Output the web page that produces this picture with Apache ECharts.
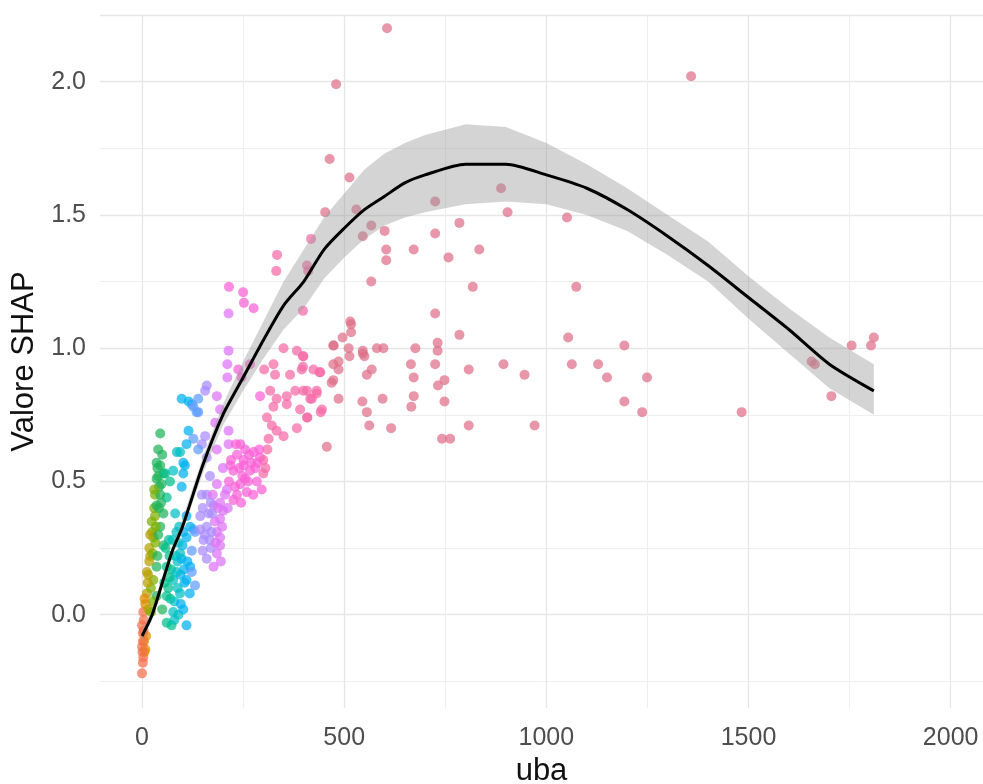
<!DOCTYPE html>
<html>
<head>
<meta charset="utf-8">
<script src="https://cdn.jsdelivr.net/npm/echarts@6/dist/echarts.min.js"></script>
<style>
    html, body { margin: 0; padding: 0; background: #fff; }
    #chart { width: 983px; height: 784px; }
</style>
</head>
<body>
<div id="chart"></div>
<script>
    // punti SHAP (uba -> valore SHAP)
    const uba = [
        0, 3, 8, 0, 5, 2, 0, 4, 3, 8,
        16, 12, 28, 12, 36, 20, 53, 28, 45, 32,
        36, 22, 18, 25, 14, 6, 10, 6, 2,
        2, 4, 1,
        20, 24, 30, 18, 26, 33, 40, 15, 38, 42, 28, 22,
        32, 38, 42, 50, 34, 47,
        45, 40, 36, 53, 36, 61, 45, 36, 53, 40,
        57, 45, 30, 48,
        61, 77, 61, 77, 61, 73, 50, 55, 68, 70,
        65, 80, 88, 95, 72, 84, 66, 100, 105, 90, 80, 58, 92,
        75, 85, 96, 112, 118, 104, 68, 88,
        102, 94, 110, 119, 98, 110, 85, 90, 127, 110,
        94, 123, 131, 123, 82, 110, 119, 102, 131, 98,
        123, 115, 127, 110, 86, 94, 102, 106, 77, 102,
        98, 69, 115,
        152, 160, 177, 185, 144, 193, 193, 144, 177, 160,
        185, 168, 193, 156, 139, 127, 139, 185, 193, 181,
        214, 214, 156, 148, 139, 160, 135, 170, 150,
        165, 172, 180, 150, 188, 198, 160, 175,
        155, 182, 170, 148, 195,
        243, 276, 251, 292, 267, 226, 300, 243, 284, 210,
        185, 226, 193, 259, 296, 168, 201, 173, 218, 251,
        185, 160, 235, 270, 310, 255,
        205, 215, 230, 240, 262, 280, 290, 235, 255, 200, 275, 300,
        220, 248, 265, 285, 305, 245, 212, 232,
        214, 276, 252, 214, 211, 211, 238, 246, 267, 302,
        325, 329, 350, 383, 399, 366, 395, 424, 441, 473,
        473, 473, 292, 317, 333, 358, 379, 408, 432, 325,
        358, 391, 416, 445, 408, 383, 350, 457, 309, 321,
        333, 313, 215, 250, 334, 332, 418, 411, 398,
        606, 480, 1358, 464, 513, 453, 530, 567, 546, 600,
        604, 604, 408, 672, 725, 725, 785, 758, 834, 888,
        904, 1051, 567, 818, 1074, 725, 515, 785, 1054, 1193,
        517, 517, 496, 474, 511, 546, 513, 550, 581, 597,
        676, 731, 731, 665, 725, 808, 894, 946, 1063, 1128,
        1150, 1249, 1193, 1237, 971, 808, 742, 762, 672, 672,
        666, 748, 732, 748, 595, 545, 556, 562, 616, 486,
        486, 439, 469, 486, 442, 409, 420, 399, 432, 398,
        398, 546, 568, 556, 1755, 1810, 1803, 1656, 1664, 1705,
        1483
    ];
    const shap = [
        -0.22, -0.16, -0.13, -0.12, -0.10, -0.07, -0.04, -0.02, 0.01, 0.04,
        0.02, 0.08, 0.13, 0.16, 0.18, 0.22, 0.26, 0.29, 0.33, 0.37,
        0.07, 0.10, 0.25, 0.31, 0.12, 0.06, -0.08, -0.14, -0.18,
        -0.10, -0.06, -0.14,
        0.30, 0.35, 0.40, 0.20, 0.23, 0.27, 0.30, 0.15, 0.22, 0.40, 0.05, 0.01,
        0.45, 0.55, 0.48, 0.60, 0.33, 0.42,
        0.68, 0.62, 0.57, 0.53, 0.51, 0.44, 0.45, 0.41, 0.38, 0.52,
        0.53, 0.56, 0.47, 0.49,
        0.18, 0.13, 0.07, 0.01, -0.03, -0.04, 0.02, 0.12, 0.22, 0.06,
        0.10, 0.05, 0.10, 0.15, 0.17, 0.22, 0.28, 0.26, 0.12, 0.00, -0.02, 0.25, 0.33,
        0.28, 0.31, 0.04, 0.20, 0.08, 0.17, 0.14, 0.20,
        0.02, 0.08, 0.13, 0.18, 0.21, -0.04, 0.16, 0.27, 0.32, 0.29,
        0.23, 0.24, 0.11, 0.16, 0.38, 0.37, 0.33, 0.31, 0.31, 0.81,
        0.79, 0.69, 0.66, 0.64, 0.61, 0.61, 0.57, 0.56, 0.54, 0.53,
        0.48, 0.50, 0.80,
        0.28, 0.21, 0.18, 0.23, 0.32, 0.29, 0.36, 0.37, 0.41, 0.33,
        0.31, 0.28, 0.26, 0.84, 0.81, 0.78, 0.76, 0.82, 0.77, 0.72,
        0.69, 0.64, 0.67, 0.64, 0.62, 0.86, 0.76, 0.25, 0.40,
        0.38, 0.31, 0.35, 0.24, 0.40, 0.33, 0.45, 0.45,
        0.30, 0.27, 0.42, 0.45, 0.20,
        0.64, 0.61, 0.58, 0.59, 0.54, 0.54, 0.53, 0.49, 0.50, 0.47,
        0.49, 0.43, 0.42, 0.46, 0.47, 0.52, 0.39, 0.38, 0.56, 0.56,
        0.62, 0.59, 0.45, 0.57, 0.62, 0.51,
        0.45, 0.50, 0.48, 0.55, 0.50, 0.55, 0.62, 0.60, 0.62, 0.55, 0.45, 0.58,
        0.58, 0.52, 0.60, 0.57, 0.55, 0.42, 0.40, 0.64,
        1.13, 1.15, 1.17, 0.99, 0.94, 0.89, 0.92, 0.89, 0.94, 0.92,
        0.94, 0.90, 1.00, 0.99, 0.97, 0.90, 0.92, 0.92, 0.91, 1.01,
        0.94, 0.88, 0.82, 0.84, 0.81, 0.82, 0.84, 0.84, 0.83, 0.78,
        0.79, 0.77, 0.81, 0.77, 0.74, 0.70, 0.67, 0.63, 0.74, 0.71,
        0.69, 0.66, 1.23, 1.21, 1.35, 1.29, 1.41, 1.29, 1.14,
        2.20, 1.99, 2.02, 1.71, 1.64, 1.51, 1.52, 1.46, 1.42, 1.44,
        1.37, 1.33, 1.31, 1.37, 1.55, 1.43, 1.47, 1.34, 1.37, 1.60,
        1.51, 1.49, 1.25, 1.23, 1.23, 1.13, 1.10, 1.05, 1.04, 1.01,
        1.09, 1.06, 1.04, 1.01, 1.00, 0.99, 0.97, 0.97, 1.00, 1.00,
        1.00, 1.02, 0.99, 0.94, 0.94, 0.92, 0.94, 0.90, 0.94, 0.94,
        0.89, 0.89, 0.80, 0.76, 0.71, 0.71, 0.66, 0.66, 0.89, 0.82,
        0.78, 0.88, 0.86, 0.80, 0.81, 0.80, 0.76, 0.71, 0.70, 0.95,
        0.92, 0.91, 0.87, 0.81, 0.76, 0.74, 0.81, 0.84, 0.84, 0.97,
        0.93, 0.98, 0.92, 0.90, 1.01, 1.04, 1.01, 0.95, 0.94, 0.82,
        0.76
    ];

    // curva loess e intervallo di confidenza
    const smoothX = [0, 25, 50, 75, 100, 150, 200, 250, 300, 350, 400, 450, 500, 550, 600, 650, 700,
        800, 900, 1000, 1100, 1200, 1300, 1400, 1500, 1600, 1700, 1810];
    const smoothY = [-0.08, 0.00, 0.12, 0.24, 0.33, 0.56, 0.75, 0.89, 1.03, 1.16, 1.25, 1.37, 1.45, 1.52, 1.57, 1.62, 1.65,
        1.69, 1.69, 1.65, 1.60, 1.52, 1.42, 1.31, 1.19, 1.07, 0.94, 0.84];
    const bandHigh = [-0.06, 0.02, 0.14, 0.26, 0.36, 0.59, 0.79, 0.95, 1.10, 1.25, 1.37, 1.49, 1.58, 1.67, 1.73, 1.77, 1.80,
        1.84, 1.83, 1.77, 1.69, 1.60, 1.50, 1.40, 1.27, 1.15, 1.04, 0.94];
    const bandLow = [-0.10, -0.02, 0.10, 0.22, 0.31, 0.53, 0.71, 0.84, 0.96, 1.07, 1.15, 1.26, 1.34, 1.41, 1.46, 1.49, 1.51,
        1.54, 1.55, 1.54, 1.50, 1.44, 1.35, 1.25, 1.11, 0.98, 0.85, 0.75];

    // colori per fascia di uba (scala hue)
    const colorBreaks = [5, 12, 22, 35, 55, 75, 95, 120, 140, 175, 215, 300, 450];
    const colorList = ['#F4704C', '#E08B00', '#B79F00', '#7CAE00', '#1FB35A', '#00BF8C', '#00BFC4',
        '#00B0F0', '#5E9CFF', '#A88BFF', '#DC72F5', '#FA5FD6', '#F56AA6', '#DE6F88'];

    const points = uba.map(function (x, i) { return [x, shap[i]]; });
    const pieces = colorList.map(function (c, i) {
        const p = { color: c };
        if (i > 0) p.gte = colorBreaks[i - 1];
        if (i < colorBreaks.length) p.lt = colorBreaks[i];
        return p;
    });

    const fontFam = '"Liberation Sans", Arial, sans-serif';

    const option = {
        backgroundColor: '#fff',
        animation: false,
        grid: { left: 100, right: 0, top: 15, bottom: 76, containLabel: false, outerBoundsMode: 'none' },
        visualMap: {
            type: 'piecewise',
            show: false,
            dimension: 0,
            seriesIndex: 0,
            pieces: pieces
        },
        xAxis: {
            type: 'value',
            min: -104,
            max: 2080,
            splitNumber: 4,
            name: 'uba',
            nameLocation: 'middle',
            nameGap: 47,
            nameTextStyle: { fontSize: 31, color: '#111', fontFamily: fontFam },
            axisLine: { show: false },
            axisTick: { show: false },
            axisLabel: {
                showMinLabel: false, showMaxLabel: false, margin: 18, fontSize: 25, color: '#4D4D4D', fontFamily: fontFam,
                formatter: function (v) { return String(v); }
            },
            splitLine: { show: true, showMinLine: false, showMaxLine: false, lineStyle: { color: '#E6E6E6', width: 1.3 } },
            minorTick: { show: false, splitNumber: 2 },
            minorSplitLine: { show: true, lineStyle: { color: '#EEEEEE', width: 1 } }
        },
        yAxis: {
            type: 'value',
            min: -0.35,
            max: 2.25,
            splitNumber: 5,
            name: 'Valore SHAP',
            nameLocation: 'middle',
            nameGap: 59,
            nameTextStyle: { fontSize: 31, color: '#111', fontFamily: fontFam },
            axisLine: { show: false },
            axisTick: { show: false },
            axisLabel: {
                showMinLabel: false, showMaxLabel: false, margin: 14, fontSize: 25, color: '#4D4D4D', fontFamily: fontFam,
                formatter: function (v) { return v.toFixed(1); }
            },
            splitLine: { show: true, showMinLine: false, showMaxLine: true, lineStyle: { color: '#E6E6E6', width: 1.3 } },
            minorTick: { show: false, splitNumber: 2 },
            minorSplitLine: { show: true, lineStyle: { color: '#EEEEEE', width: 1 } }
        },
        series: [
            {
                type: 'scatter',
                data: points,
                symbolSize: 10,
                itemStyle: { opacity: 0.72 },
                z: 2
            },
            {
                type: 'custom',
                data: [[smoothX[0], bandLow[0]]],
                renderItem: function (params, api) {
                    const pts = [];
                    for (let i = 0; i < smoothX.length; i++) pts.push(api.coord([smoothX[i], bandHigh[i]]));
                    for (let i = smoothX.length - 1; i >= 0; i--) pts.push(api.coord([smoothX[i], bandLow[i]]));
                    return {
                        type: 'polygon',
                        shape: { points: pts },
                        style: { fill: 'rgba(153,153,153,0.42)' }
                    };
                },
                silent: true,
                z: 3
            },
            {
                type: 'line',
                data: smoothX.map(function (x, i) { return [x, smoothY[i]]; }),
                symbol: 'none',
                smooth: 0.25,
                lineStyle: { color: '#000', width: 3 },
                z: 4
            }
        ]
    };

    const chart = echarts.init(document.getElementById('chart'));
    chart.setOption(option);
    window.addEventListener('resize', function () {
        chart.resize();
    });
</script>
</body>
</html>
